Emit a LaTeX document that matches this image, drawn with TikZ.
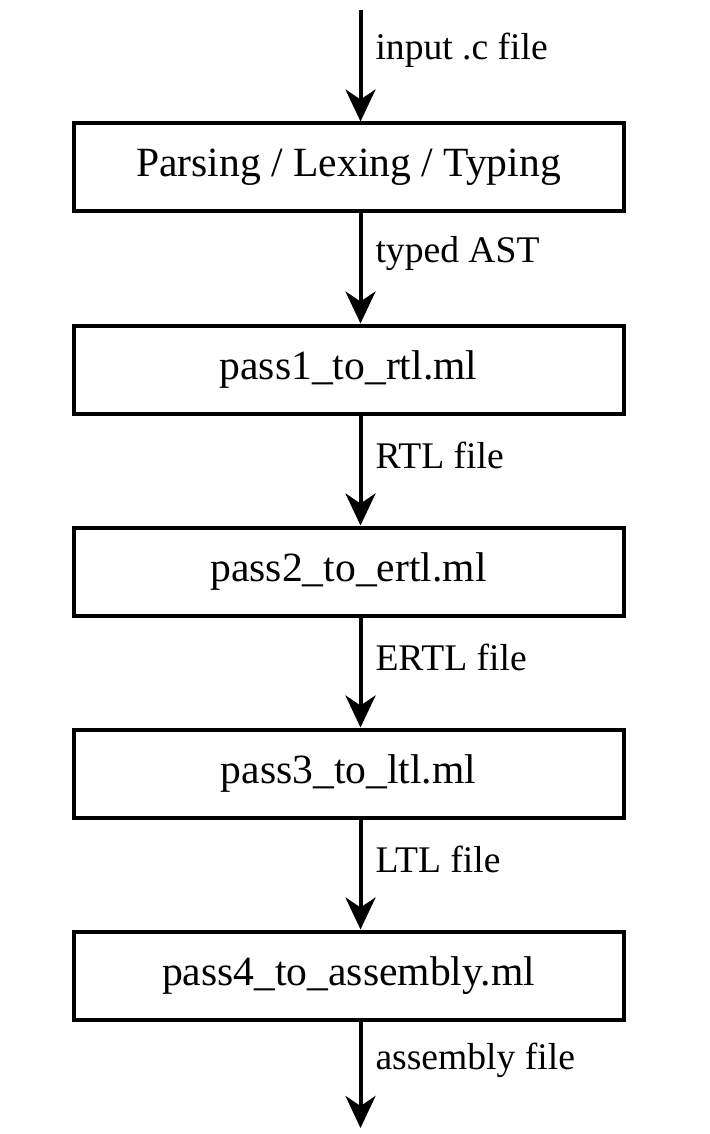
\documentclass[tikz,border=0pt]{standalone}
\usepackage{fontspec}
\setmainfont{Liberation Serif}
\usepackage{tikz}
\usetikzlibrary{arrows.meta,positioning}

\begin{document}
\begin{tikzpicture}[
  node distance=55pt,
  pass/.style={draw,line width=2pt,minimum width=275pt,minimum height=44pt,align=center,font=\fontsize{20.8}{25}\selectfont},
  flow/.style={-{Stealth[length=16pt,width=15pt,inset=5pt]},line width=2pt},
  lbl/.style={anchor=west,inner sep=0pt,font=\fontsize{18.8}{22}\selectfont}
]
\useasboundingbox (0,0) rectangle (354.5pt,-567pt);
\node[pass] (parse) at (174.25pt,-83.75pt) {Parsing / Lexing / Typing};
\node[pass,below=of parse] (rtl) {pass1\_to\_rtl.ml};
\node[pass,below=of rtl] (ertl) {pass2\_to\_ertl.ml};
\node[pass,below=of ertl] (ltl) {pass3\_to\_ltl.ml};
\node[pass,below=of ltl] (asm) {pass4\_to\_assembly.ml};
\coordinate (in) at ([xshift=6pt]parse.north |- 0,-5pt);
\coordinate (out) at ([xshift=6pt]asm.south |- 0,-564pt);
\draw[flow] (in) -- node[lbl,pos=0.36,xshift=6.5pt] {input .c file} ([xshift=6pt]parse.north);
\draw[flow] ([xshift=6pt]parse.south) -- node[lbl,pos=0.36,xshift=6.5pt] {typed AST} ([xshift=6pt]rtl.north);
\draw[flow] ([xshift=6pt]rtl.south) -- node[lbl,pos=0.36,xshift=6.5pt] {RTL file} ([xshift=6pt]ertl.north);
\draw[flow] ([xshift=6pt]ertl.south) -- node[lbl,pos=0.36,xshift=6.5pt] {ERTL file} ([xshift=6pt]ltl.north);
\draw[flow] ([xshift=6pt]ltl.south) -- node[lbl,pos=0.36,xshift=6.5pt] {LTL file} ([xshift=6pt]asm.north);
\draw[flow] ([xshift=6pt]asm.south) -- node[lbl,pos=0.36,xshift=6.5pt] {assembly file} (out);
\end{tikzpicture}
\end{document}
